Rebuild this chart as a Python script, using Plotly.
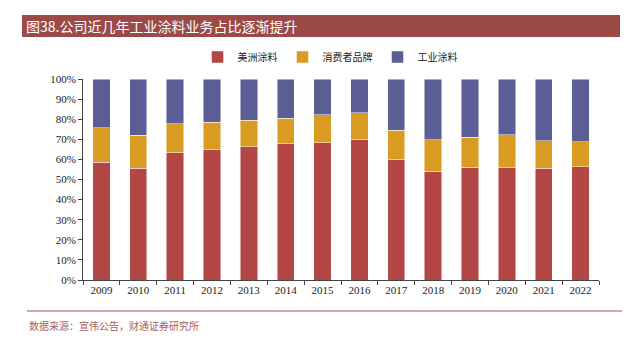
import plotly.graph_objects as go

years = [str(y) for y in range(2009, 2023)]
meizhou = [58.7, 55.7, 63.3, 64.8, 66.3, 67.8, 68.3, 70.1, 60.2, 54.2, 56.2, 55.9, 55.6, 56.4]
consumer_top = [75.8, 72.1, 77.8, 78.6, 79.6, 80.4, 82.2, 83.2, 74.5, 69.8, 71.0, 72.3, 69.2, 68.7]
consumer = [round(c - m, 1) for c, m in zip(consumer_top, meizhou)]
industrial = [round(100 - c, 1) for c in consumer_top]

W, H = 642, 339
L, R, T, B = 83, 43, 79, 59
pw, ph = W - L - R, H - T - B

def px(x):
    return (x - L) / pw

def py(y):
    return (H - B - y) / ph

serif = "Liberation Serif, Times New Roman, serif"
cjk = "Noto Sans CJK SC, sans-serif"

fig = go.Figure()
for name, vals, col in [("美洲涂料", meizhou, "#B24745"),
                        ("消费者品牌", consumer, "#D99B22"),
                        ("工业涂料", industrial, "#5A5E94")]:
    fig.add_bar(x=years, y=vals, name=name, marker_color=col,
                marker_line=dict(color="rgba(255,255,255,0.6)", width=0.8), width=0.47)

fig.update_layout(
    barmode="stack",
    width=W, height=H,
    margin=dict(l=L, r=R, t=T, b=B),
    plot_bgcolor="white", paper_bgcolor="white",
    showlegend=True,
    legend=dict(orientation="h", x=px(330), xanchor="center", y=py(57), yanchor="middle",
                font=dict(family=cjk, size=10, color="#222"), itemwidth=30,
                traceorder="normal"),
    xaxis=dict(type="category", showline=True, linecolor="#444", linewidth=1,
               ticks="outside", ticklen=4, tickcolor="#444", tickson="boundaries",
               tickfont=dict(family=serif, size=11, color="#222"), showgrid=False),
    yaxis=dict(range=[0, 100], tickvals=list(range(0, 101, 10)),
               ticktext=[f"{v}%" for v in range(0, 101, 10)],
               showline=True, linecolor="#444", linewidth=1, ticks="outside", ticklen=4,
               tickcolor="#444", tickfont=dict(family=serif, size=11, color="#222"),
               showgrid=False, zeroline=False),
    shapes=[
        dict(type="rect", xref="paper", yref="paper", x0=px(22), x1=px(620), y0=py(37), y1=py(15),
             fillcolor="#9B4A48", line_width=0, layer="below"),
        dict(type="line", xref="paper", yref="paper", x0=px(27), x1=px(622), y0=py(311), y1=py(311),
             line=dict(color="#D4A5A5", width=2)),
    ],
    annotations=[
        dict(text="图38.公司近几年工业涂料业务占比逐渐提升", xref="paper", yref="paper",
             x=px(24), y=py(26), xanchor="left", yanchor="middle", showarrow=False,
             font=dict(family=cjk, size=14, color="white")),
        dict(text="数据来源：宣伟公告，财通证券研究所", xref="paper", yref="paper",
             x=px(27), y=py(325), xanchor="left", yanchor="middle", showarrow=False,
             font=dict(family=cjk, size=10, color="#A9605E")),
    ],
)

fig.write_html("out.html")
